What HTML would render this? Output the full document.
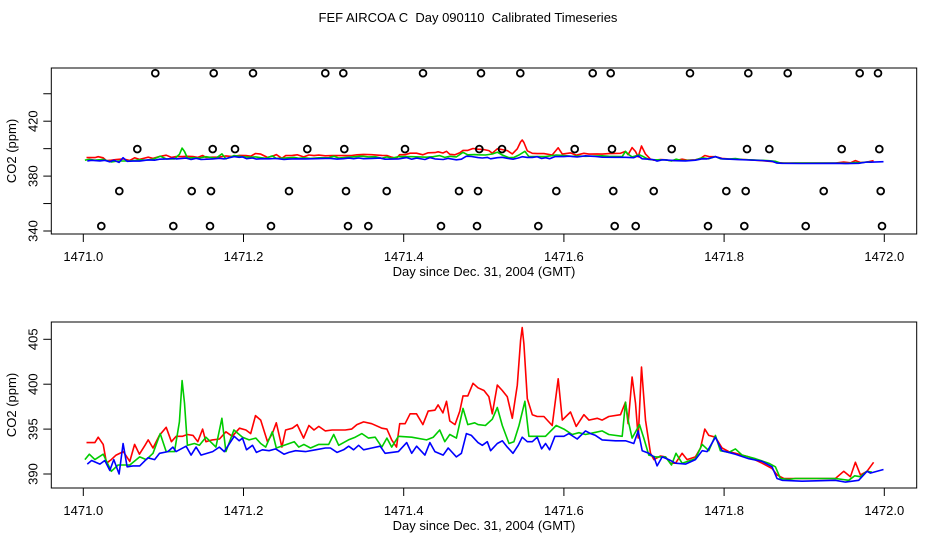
<!DOCTYPE html>
<html><head><meta charset="utf-8"><style>
html,body{margin:0;padding:0;background:#fff;}
svg{display:block;font-family:"Liberation Sans",Arial,sans-serif;}
</style></head><body>
<svg id="chart" width="936" height="540" viewBox="0 0 936 540">
<rect width="936" height="540" fill="#fff"/>
<text x="468" y="22" text-anchor="middle" font-size="13" style="white-space:pre">FEF AIRCOA C  Day 090110  Calibrated Timeseries</text>
<g id="top"></g>
<g id="bot"></g>
</svg>
<script>
const redT=[.004,.0145,.0186,.0248,.029,.035,.041,.050,.058,.064,.070,.077,.081,.087,.095,.1035,.110,.116,.124,.130,.137,.143,.149,.153,.161,.170,.178,.186,.195,.203,.209,.215,.2215,.230,.236,.241,.248,.2526,.261,.267,.275,.2816,.288,.294,.302,.3106,.327,.335,.3416,.350,.360,.3727,.379,.385,.391,.395,.4017,.408,.416,.424,.4306,.439,.443,.449,.4534,.4576,.464,.470,.474,.480,.4865,.4928,.5002,.5064,.5106,.5168,.5231,.5293,.5356,.5418,.546,.548,.550,.5543,.5605,.5667,.575,.5854,.5929,.598,.6083,.6154,.625,.6312,.6416,.6478,.6561,.6707,.6769,.6802,.6852,.6894,.6927,.6969,.7019,.7081,.7123,.7206,.7268,.7331,.7393,.7476,.7538,.7642,.7705,.7759,.7809,.7892,.7975,.8058,.8141,.8308,.8474,.8599,.8661,.8745,.8828,.8973,.9389,.9493,.9577,.9639,.9701,.9784,.9867];
const redV=[393.5,393.5,394.1,393.3,391.2,391.6,392.1,392.5,391.4,393.3,392.2,393.2,393.8,392.9,394.3,395.2,393.6,394.2,394.2,394.4,394.3,393.6,395.0,393.6,393.8,393.9,394.7,394.2,395.1,394.9,394.5,396.5,396.0,393.6,394.5,395.7,393.0,394.9,395.1,395.5,394.0,395.4,394.9,395.3,394.8,394.9,394.9,395.0,395.5,395.8,395.6,395.1,395.0,393.8,393.0,395.6,395.6,396.7,396.7,395.5,397.0,397.1,397.7,396.8,398.1,395.9,395.5,397.0,398.7,398.7,400.1,399.6,399.3,398.6,396.7,399.9,399.3,398.6,396.2,399.9,404.9,406.3,404.5,398.4,396.6,396.4,396.4,395.4,400.6,396.0,396.9,395.3,396.6,396.0,396.2,396.0,396.4,396.6,398.0,395.6,400.8,397.9,394.0,401.9,396.0,392.3,391.6,392.0,391.9,391.2,391.2,392.3,391.6,391.9,392.9,395.0,394.3,394.1,392.9,392.5,392.3,391.9,391.2,390.6,389.9,389.5,389.5,389.5,389.5,390.3,389.7,391.3,389.9,390.3,391.3];
const greenT=[.002,.0075,.0145,.0248,.035,.0435,.058,.0704,.0787,.087,.096,.1035,.1139,.120,.1234,.1263,.130,.1387,.145,.153,.1656,.173,.178,.188,.1988,.207,.2153,.2215,.2277,.236,.241,.2509,.2633,.269,.2754,.2836,.294,.3064,.3126,.3188,.331,.3395,.3478,.356,.3644,.3727,.379,.385,.3934,.410,.4286,.437,.445,.4513,.4576,.4658,.474,.480,.4886,.4928,.502,.5106,.5168,.5231,.5314,.5376,.5439,.5513,.5563,.5667,.577,.5904,.600,.6104,.6187,.627,.6374,.6478,.6561,.6728,.6769,.6802,.6852,.6944,.6998,.706,.7143,.7268,.7343,.74,.7476,.7642,.7726,.7809,.7892,.7954,.8058,.8141,.8225,.8391,.8557,.864,.8703,.8807,.889,.9389,.9555,.963,.97,.9784,.9846];
const greenV=[391.6,392.2,391.6,392.2,390.3,391.0,391.0,391.9,391.6,392.3,394.5,392.5,392.5,395.8,400.4,397.9,393.2,393.4,393.2,394.1,393.0,396.2,392.5,394.9,394.1,393.8,394.0,393.4,393.0,394.7,392.9,393.2,393.6,393.0,393.3,392.9,393.3,393.3,394.4,393.2,393.8,394.1,394.5,394.0,394.1,393.0,394.0,393.0,394.2,394.1,393.8,394.1,394.9,393.6,394.4,394.0,397.3,395.5,395.7,395.5,395.4,396.1,397.4,395.4,393.4,393.6,395.4,398.1,394.2,394.2,394.2,395.4,395.0,394.4,394.6,394.4,394.6,394.8,394.4,394.2,398.0,396.0,394.0,395.5,394.0,392.1,391.9,391.9,391.0,392.3,391.2,391.7,393.3,392.6,394.3,392.6,392.4,392.8,392.1,391.7,391.2,390.8,389.5,389.4,389.5,389.5,389.3,389.8,389.7,390.3,390.2];
const blueT=[.005,.0104,.0207,.0269,.0331,.0381,.0447,.0497,.0547,.0621,.0704,.0807,.089,.0952,.1056,.1118,.1159,.1284,.1346,.1408,.147,.1615,.1698,.176,.1884,.1946,.1988,.2037,.2112,.2161,.2236,.2319,.2402,.2505,.2567,.265,.2774,.2899,.3023,.3085,.3168,.325,.3313,.3375,.3437,.3499,.3602,.3706,.3768,.3851,.3934,.4037,.41,.4161,.4265,.4327,.4389,.4493,.4555,.4658,.472,.4783,.4845,.4928,.4981,.5044,.5085,.5168,.5231,.5293,.5364,.543,.548,.5543,.5605,.5667,.5721,.5771,.5821,.5888,.600,.6062,.6166,.627,.6333,.6395,.6478,.6644,.6769,.6873,.6927,.6977,.706,.7123,.7164,.7227,.731,.7393,.7518,.7642,.7726,.7788,.7892,.7975,.8141,.8308,.8474,.8599,.8661,.8724,.8973,.9389,.9514,.968,.9784,.9825,.999];
const blueV=[391.1,391.5,391.1,391.5,390.4,391.6,390.0,393.4,390.8,390.9,390.9,391.8,391.6,392.3,392.5,393.0,392.5,393.1,392.1,393.0,392.1,392.5,393.0,392.5,394.2,393.7,394.0,392.7,393.2,392.4,392.7,392.6,392.8,392.2,392.4,392.6,392.5,392.7,392.9,392.9,392.4,392.7,393.1,392.7,393.2,392.7,392.9,393.1,392.3,392.4,392.5,393.5,392.3,393.1,392.1,393.5,392.5,392.1,392.9,391.9,392.3,394.5,394.3,393.5,393.2,393.6,392.6,393.4,393.7,393.0,392.3,393.2,394.1,393.6,393.6,394.1,392.8,393.4,392.7,394.2,394.2,394.5,393.9,394.8,394.5,394.3,393.8,393.7,393.7,393.4,394.8,392.6,392.3,391.9,390.9,391.9,391.6,391.2,391.1,391.6,392.6,392.5,394.1,392.6,392.2,391.7,391.4,390.8,389.5,389.3,389.2,389.3,389.1,389.3,390.3,390.1,390.5];
const calT=[.0899,.1628,.2119,.3021,.3246,.4241,.4965,.5456,.6360,.6584,.7574,.8302,.8794,.9693,.9921,
 .0674,.1615,.1894,.2797,.3258,.4016,.4944,.5227,.6135,.6601,.7346,.8286,.8564,.9468,.9938,
 .0449,.1353,.1594,.2568,.3280,.3788,.4690,.4928,.5905,.6617,.7121,.8027,.8270,.9243,.9955,
 .0225,.1124,.1582,.2343,.3305,.3558,.4466,.4915,.5680,.6634,.6896,.7799,.8252,.9019,.9971];
const calV=[455,455,455,455,455,455,455,455,455,455,455,455,455,455,455,
 399.7,399.7,399.7,399.7,399.7,399.7,399.7,399.7,399.7,399.7,399.7,399.7,399.7,399.7,399.7,
 369.1,369.1,369.1,369.1,369.1,369.1,369.1,369.1,369.1,369.1,369.1,369.1,369.1,369.1,369.1,
 343.6,343.6,343.6,343.6,343.6,343.6,343.6,343.6,343.6,343.6,343.6,343.6,343.6,343.6,343.6];
const xTicks=[1471.0,1471.2,1471.4,1471.6,1471.8,1472.0];
const topYTicks=[340,360,380,400,420,440];
const topYLabels=["340","","380","","420",""];
const botYTicks=[390,395,400,405];
const botYLabels=["390","395","400","405"];

const NS="http://www.w3.org/2000/svg";
function mk(parent,tag,attrs){const e=document.createElementNS(NS,tag);for(const k in attrs)e.setAttribute(k,attrs[k]);parent.appendChild(e);return e;}
const X0=83.3,XK=801;
function xs(d){return X0+(d)*XK;}
function panel(g,box,yf,yTicks,yLabels,withCal,pfx){
  const series=[[redT,redV,"#ff0000","red"],[greenT,greenV,"#00cc00","green"],[blueT,blueV,"#0000ff","blue"]];
  for(const s of series){
    let d="";s[0].forEach((t,i)=>{d+=(i?"L":"M")+xs(t).toFixed(1)+","+yf(s[1][i]).toFixed(1);});
    const p=mk(g,"path",{d:d,fill:"none",stroke:s[2],"stroke-width":"1.6","stroke-linejoin":"round"});
    
    
  }
  if(withCal){
    calT.forEach((t,i)=>{
      const c=mk(g,"circle",{cx:xs(t).toFixed(1),cy:yf(calV[i]).toFixed(1),r:"3.4",fill:"none",stroke:"#000","stroke-width":"1.8"});
      
      
    });
  }
  const r=mk(g,"rect",{x:box.x0,y:box.y0,width:box.x1-box.x0,height:box.y1-box.y0,fill:"none",stroke:"#000","stroke-width":"1"});
  
  
  xTicks.forEach(v=>{
    const x=xs(v-1471);
    const l=mk(g,"line",{x1:x,x2:x,y1:box.y1,y2:box.y1+8,stroke:"#000"});
    
    
    const t=mk(g,"text",{x:x,y:box.y1+27,"text-anchor":"middle","font-size":"13"});
    t.textContent=v.toFixed(1);
    
    
  });
  yTicks.forEach((v,i)=>{
    const y=yf(v);
    const l=mk(g,"line",{x1:box.x0-8,x2:box.x0,y1:y,y2:y,stroke:"#000"});
    
    
    if(yLabels[i]){
      const t=mk(g,"text",{x:0,y:0,"text-anchor":"middle","font-size":"13",transform:"translate("+(box.x0-14)+","+y+") rotate(-90)"});
      t.textContent=yLabels[i];
      
      
    }
  });
  const xt=mk(g,"text",{x:484,y:box.y1+42,"text-anchor":"middle","font-size":"13"});
  xt.textContent="Day since Dec. 31, 2004 (GMT)";
  
  
  const yt=mk(g,"text",{x:0,y:0,"text-anchor":"middle","font-size":"13",transform:"translate(16,"+((box.y0+box.y1)/2)+") rotate(-90)"});
  yt.textContent="CO2 (ppm)";
  
  
}
const topBox={x0:51.3,x1:916.7,y0:68,y1:234};
panel(document.getElementById("top"),topBox,v=>231-(v-340)*1.3725,topYTicks,topYLabels,true,"top");
const botBox={x0:51.3,x1:916.7,y0:322,y1:488};
panel(document.getElementById("bot"),botBox,v=>474-(v-390)*8.98,botYTicks,botYLabels,false,"bottom");
</script>
</body></html>
